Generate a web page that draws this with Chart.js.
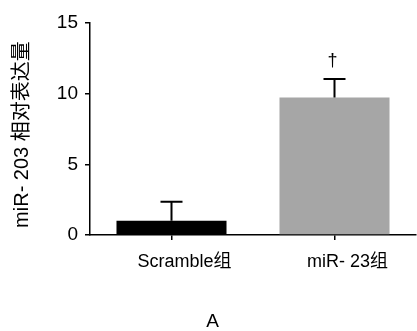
<!DOCTYPE html>
<html>
<head>
<meta charset="utf-8">
<script src="https://cdn.jsdelivr.net/npm/chart.js@4.4.0/dist/chart.umd.min.js"></script>
<style>
  html, body { margin: 0; padding: 0; background: #fff; }
  #wrap { width: 417px; height: 331px; }
</style>
</head>
<body>
<div id="wrap"><canvas id="chart"></canvas></div>
<script>
// values
const groups = ['Scramble组', 'miR- 23组'];
const expression = [1.0, 9.72];
const errorUp = [1.35, 1.32];
const sigMarks = ['', '†'];
const barColors = ['#000000', '#a6a6a6'];
const yTicks = [0, 5, 10, 15];

const FONT = '"Liberation Sans", Arial, "Noto Sans CJK SC", sans-serif';

// draws the upper error bars and significance marks
const errorBarPlugin = {
  id: 'errorBars',
  afterDatasetsDraw(chart) {
    const ctx = chart.ctx;
    const yScale = chart.scales.y;
    const meta = chart.getDatasetMeta(0);
    ctx.save();
    ctx.strokeStyle = '#000';
    ctx.lineWidth = 2;
    meta.data.forEach((bar, i) => {
      const yTop = yScale.getPixelForValue(expression[i] + errorUp[i]);
      const yVal = yScale.getPixelForValue(expression[i]);
      ctx.beginPath();
      ctx.moveTo(bar.x, yVal);
      ctx.lineTo(bar.x, yTop);
      ctx.moveTo(bar.x - 11, yTop);
      ctx.lineTo(bar.x + 11, yTop);
      ctx.stroke();
      if (sigMarks[i]) {
        ctx.fillStyle = '#000';
        ctx.font = '18px ' + FONT;
        ctx.textAlign = 'center';
        ctx.textBaseline = 'middle';
        ctx.fillText(sigMarks[i], bar.x - 2, yTop - 18);
      }
    });
    ctx.restore();
  }
};

new Chart(document.getElementById('chart'), {
  type: 'bar',
  data: {
    labels: groups,
    datasets: [{
      data: expression,
      backgroundColor: barColors,
      borderWidth: 0,
      barPercentage: 0.675,
      categoryPercentage: 1
    }]
  },
  options: {
    responsive: true,
    maintainAspectRatio: false,
    animation: false,
    events: [],
    layout: { padding: { left: 9, top: 23, right: 1, bottom: 0 } },
    plugins: {
      legend: { display: false },
      tooltip: { enabled: false },
      title: {
        display: true,
        position: 'bottom',
        text: 'A',
        color: '#000',
        font: { family: FONT, size: 19, weight: 'normal', lineHeight: 1 },
        padding: 0
      }
    },
    scales: {
      x: {
        afterFit(scale) { scale.height = 77; },
        grid: {
          offset: false,
          drawOnChartArea: false,
          drawTicks: true,
          tickLength: 5,
          color: '#000',
          lineWidth: 1.5
        },
        border: { display: true, color: '#000', width: 1.5 },
        ticks: {
          color: '#000',
          padding: 11,
          labelOffset: 13,
          font: { family: FONT, size: 18 }
        }
      },
      y: {
        min: 0,
        max: 15,
        afterFit(scale) { scale.width = 81; },
        afterBuildTicks(scale) { scale.ticks = yTicks.map(v => ({ value: v })); },
        grid: {
          drawOnChartArea: false,
          drawTicks: true,
          tickLength: 5,
          color: '#000',
          lineWidth: 1.5
        },
        border: { display: true, color: '#000', width: 1.5 },
        ticks: {
          color: '#000',
          padding: 7,
          font: { family: FONT, size: 19 }
        },
        title: {
          display: true,
          text: 'miR- 203 相对表达量  ',
          color: '#000',
          padding: { top: 1, bottom: 0 },
          font: { family: FONT, size: 20 }
        }
      }
    }
  },
  plugins: [errorBarPlugin]
});
</script>
</body>
</html>
